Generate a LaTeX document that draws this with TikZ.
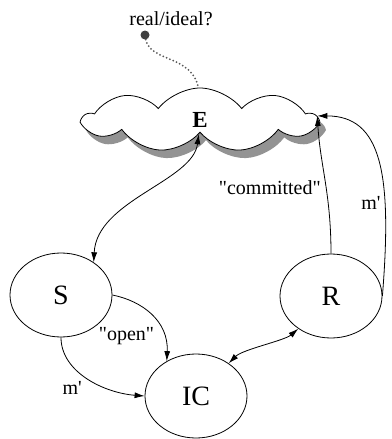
\documentclass[tikz,border=0pt]{standalone}
\usepackage{fontspec}
\setmainfont{Liberation Serif}
\usetikzlibrary{arrows.meta,shapes,shadows,positioning}

\begin{document}
\begin{tikzpicture}[x=1pt,y=-1pt,
  party/.style={ellipse, draw=black, line width=0.8pt, fill=white,
    minimum width=102pt, minimum height=84pt, inner sep=0pt,
    font=\fontsize{28}{30}\selectfont},
  lbl/.style={font=\fontsize{20}{22}\selectfont, inner sep=1pt},
  link/.style={line width=0.8pt, -{Latex[length=10pt,width=6pt]}},
  blink/.style={line width=0.8pt, {Latex[length=10pt,width=6pt]}-{Latex[length=10pt,width=6pt]}}]

\useasboundingbox (0,0) rectangle (391,439);

% environment cloud
\node[cloud, cloud puffs=9, cloud puff arc=105, cloud ignores aspect,
minimum width=233pt, minimum height=64pt, inner sep=0pt,
draw=black, line width=0.8pt, fill=white,
drop shadow={shadow xshift=6pt, shadow yshift=-8pt, fill=gray!85, opacity=1},
font=\fontsize{23}{25}\selectfont\bfseries] at (200,120) (env) {E};

\node[circle, fill=black!75, inner sep=0pt, minimum size=9pt] at (145,35) (realdot) {};
\node[lbl] at (171,19) (ideallabel) {real/ideal?};

% the parties
\node[party] at (61,295) (sender) {S};
\node[party] at (196,396) (ic) {IC};
\node[party] at (331,296) (receiver) {R};

\draw[black!65, line width=2pt, line cap=round, dash pattern=on 0pt off 3.6pt]
  (realdot) .. controls (150,62) and (192,55) .. (env.93);

\draw[blink] (env.-95) .. controls +(-6,47) and +(3,-62) .. (sender.45);

\draw[link] (sender.east) .. controls +(30,6) and +(2,-40) .. node[lbl, pos=.7, left=6pt, yshift=-6pt] {\textquotedbl open\textquotedbl} (ic.130);
\draw[link] (sender.south) .. controls +(0,35) and +(-40,-3) .. node[lbl, pos=.45, below left=4pt and 0pt] {m\textquotesingle} (ic.west);

\draw[blink] (ic.45) .. controls +(14,-14) and +(-14,12) .. (receiver.225);

\draw[link] (receiver.north) .. controls +(0,-60) and +(3,50) .. node[lbl, pos=.45, left=4pt] {\textquotedbl committed\textquotedbl} (env.2);
\draw[link] (receiver.east) .. controls +(10,-123) and +(64,0) .. node[lbl, pos=.3, left=3pt] {m\textquotesingle} (env.2);

\end{tikzpicture}
\end{document}
